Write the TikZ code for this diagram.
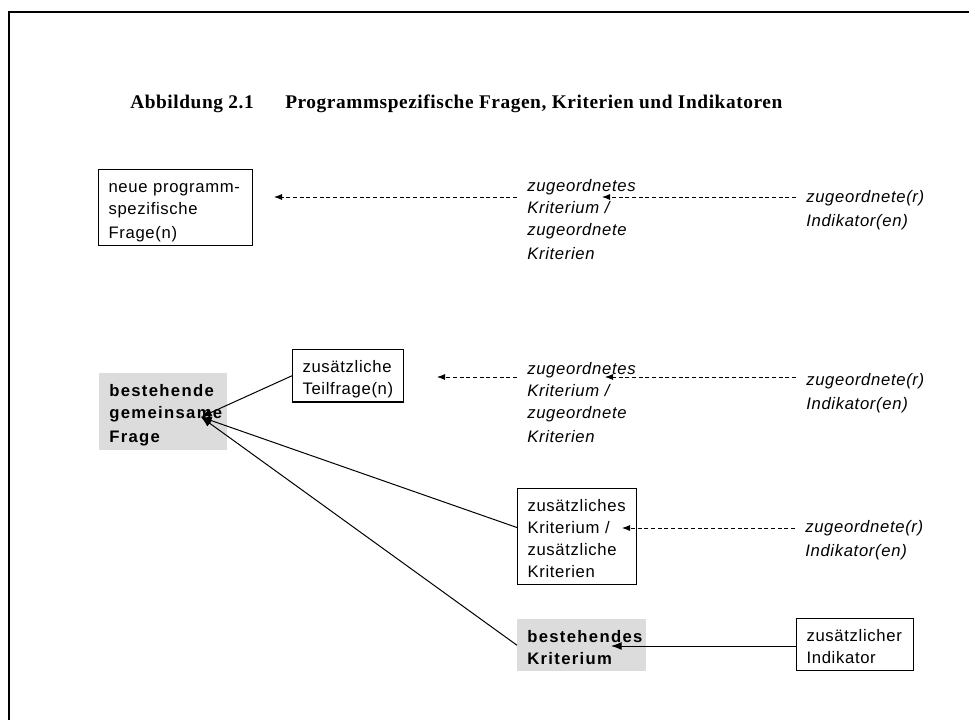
\documentclass[tikz,border=0pt]{standalone}
\usepackage{fontspec}
\setmainfont{Liberation Serif}
\setsansfont{Liberation Sans}[LetterSpace=4,BoldFeatures={LetterSpace=8}]
\newfontfamily\titelfont{Liberation Serif}[LetterSpace=3]
\usetikzlibrary{arrows.meta}
\definecolor{grauton}{HTML}{DCDCDC}
\hyphenpenalty=10000
\exhyphenpenalty=10000
\newcommand\zeile{\rule[-2.25pt]{0pt}{16.5pt}}
\tikzset{   kasten/.style = {rectangle, anchor = north west, align = left, inner xsep = 7.5pt, inner ysep = 3pt, text width = #1,
                             font = \fontsize{12.5}{16.5}\selectfont\sffamily,
                             execute at begin node = \zeile, execute at end node = \zeile},
            rand/.style = {kasten = #1, draw, line width = 0.8pt},
            grau/.style = {kasten = #1, fill = grauton, font = \fontsize{12.5}{16.5}\selectfont\sffamily\bfseries},
            etikett/.style = {kasten = #1, font = \fontsize{12.5}{16.5}\selectfont\sffamily\itshape},
            titel/.style = {anchor = base west, inner sep = 0pt, font = \titelfont\bfseries\fontsize{14.5}{17}\selectfont}}
\tikzset{   pfeil/.style = {-{Latex[length=8pt,width=6pt]}, line width = 0.75pt},
            gestrichelt/.style = {-{Latex[length=6pt,width=4.5pt]}, line width = 0.6pt, dash pattern = on 3pt off 2pt}}

\begin{document}
\begin{tikzpicture}[x=0.75pt,y=-0.75pt]
\useasboundingbox (0,0) rectangle (969,720);
\draw[line width=1.5pt] (9,720) -- (9,12) -- (969,12);

\node[titel] (abb) at (130,109) {Abbildung 2.1};
\node[titel] (ueberschrift) at (285,109) {Programmspezifische Fragen, Kriterien und Indikatoren};

\node[rand=100.5pt] (neu) at (98,169) {neue~programm-\\spezifische\\Frage(n)};
\node[etikett=97.5pt] (krit1) at (517,168) {zugeordnetes\\Kriterium~/\\zugeordnete\\Kriterien};
\node[etikett=97.5pt] (ind1) at (796,179) {zugeordnete(r)\\Indikator(en)};

\node[grau=81pt] (gem) at (99,373) {bestehende\\gemeinsame\\Frage};
\node[rand=68.25pt] (teil) at (292,349) {zusätzliche\\Teilfrage(n)};
\node[etikett=97.5pt] (krit2) at (517,351) {zugeordnetes\\Kriterium~/\\zugeordnete\\Kriterien};
\node[etikett=97.5pt] (ind2) at (796,362) {zugeordnete(r)\\Indikator(en)};

\node[rand=74.25pt] (zus) at (517,488) {zusätzliches\\Kriterium~/\\zusätzliche\\Kriterien};
\node[etikett=97.5pt] (ind3) at (795,509) {zugeordnete(r)\\Indikator(en)};

\node[grau=81.75pt] (best) at (517,619) {bestehendes\\Kriterium};
\node[rand=72.75pt] (indik) at (796,618) {zusätzlicher\\Indikator};

\coordinate (zielA) at (274,197);
\coordinate (zielB) at (602,197);
\coordinate (zielC) at (437,377);
\coordinate (zielD) at (605,377);
\coordinate (zielE) at (622,528);
\coordinate (zielF) at (611,646);
\coordinate (zielG) at (201,417);

\draw[gestrichelt] (krit1.west |- zielA) -- (zielA);
\draw[gestrichelt] (ind1.west |- zielB) -- (zielB);
\draw[gestrichelt] (krit2.west |- zielC) -- (zielC);
\draw[gestrichelt] (ind2.west |- zielD) -- (zielD);
\draw[gestrichelt] (ind3.west |- zielE) -- (zielE);
\draw[pfeil] (indik.west |- zielF) -- (zielF);
\draw[pfeil] (teil.west) -- (zielG);
\draw[pfeil] ([yshift=6.75pt]zus.west) -- (zielG);
\draw[pfeil] (best.west) -- (zielG);
\end{tikzpicture}
\end{document}
